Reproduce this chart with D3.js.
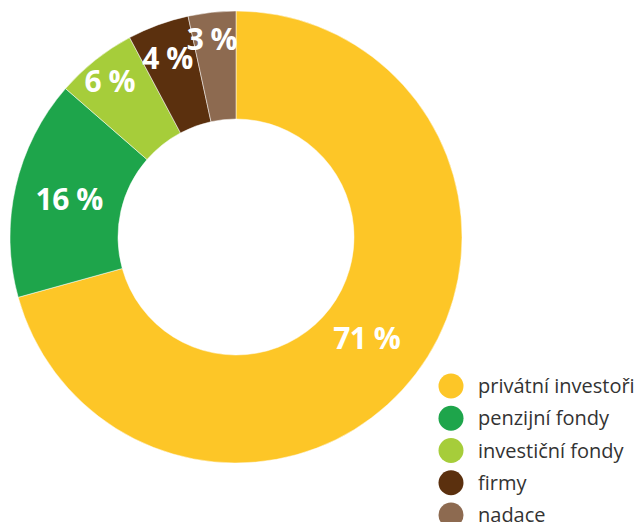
<!DOCTYPE html>
<html>
<head>
<meta charset="utf-8">
<script src="https://cdn.jsdelivr.net/npm/d3@7.9.0/dist/d3.min.js"></script>
<style>
  body { margin: 0; background: #fff; }
  svg { display: block; font-family: "Open Sans", sans-serif; }
</style>
</head>
<body>
<svg id="chart" width="635" height="522"></svg>
<script>
// chart data
const categories = ["privátní investoři", "penzijní fondy", "investiční fondy", "firmy", "nadace"];
const shares = [70.7, 15.7, 5.8, 4.4, 3.4];
const colorList = ["#fdc627", "#1ea54b", "#a6cd3a", "#5b300e", "#8d6a50"];

const svg = d3.select("#chart");
const cx = 236, cy = 237;
const outerR = 226, innerR = 118;

const data = categories.map((c, i) => ({ label: c, value: shares[i] }));
const color = d3.scaleOrdinal().domain(categories).range(colorList);

const pie = d3.pie().value(d => d.value).sort(null);
const arc = d3.arc().innerRadius(innerR).outerRadius(outerR);
const arcs = pie(data);

const g = svg.append("g").attr("transform", `translate(${cx},${cy})`);

g.selectAll("path")
  .data(arcs)
  .enter()
  .append("path")
  .attr("d", arc)
  .attr("fill", d => color(d.data.label))
  .attr("stroke", "#fff")
  .attr("stroke-width", 0.5);

// labels sit further out for the thin slices at the top
const labelR = d => {
  const span = d.endAngle - d.startAngle;
  if (span > 0.6) return 168;
  return d.index % 2 === 0 ? 198 : 190;
};
const mid = d => (d.startAngle + d.endAngle) / 2;

g.selectAll("text.pct")
  .data(arcs)
  .enter()
  .append("text")
  .attr("class", "pct")
  .attr("x", d => Math.sin(mid(d)) * labelR(d) - 3)
  .attr("y", d => -Math.cos(mid(d)) * labelR(d))
  .attr("dy", "0.33em")
  .attr("text-anchor", "middle")
  .attr("fill", "#fff")
  .attr("font-weight", "bold")
  .attr("font-size", 30)
  .attr("letter-spacing", -0.5)
  .text(d => `${Math.round(d.data.value)} %`);

// legend
const legend = svg.append("g").attr("transform", "translate(451,386)");
const rowY = d3.scalePoint().domain(categories).range([0, 129]);

const items = legend.selectAll("g")
  .data(data)
  .enter()
  .append("g")
  .attr("transform", d => `translate(0,${rowY(d.label)})`);

items.append("circle")
  .attr("r", 12.5)
  .attr("fill", d => color(d.label));

items.append("text")
  .attr("x", 27)
  .attr("dy", "0.35em")
  .attr("fill", "#333")
  .attr("font-size", 20)
  .text(d => d.label);
</script>
</body>
</html>
